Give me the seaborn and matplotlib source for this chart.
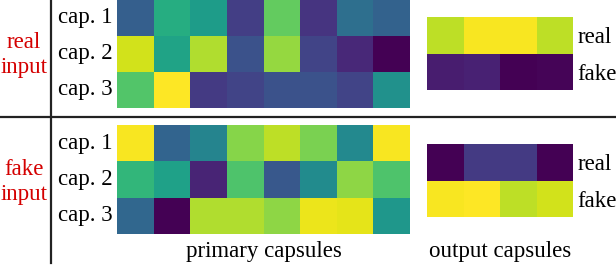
import numpy as np
import pandas as pd
import seaborn as sns
import matplotlib.pyplot as plt
from matplotlib.lines import Line2D

# capsule activations (viridis, 0..1)
cap_labels = ["cap. 1", "cap. 2", "cap. 3"]
out_labels = ["real", "fake"]

real_primary = [
    [0.30, 0.62, 0.55, 0.18, 0.76, 0.15, 0.36, 0.31],
    [0.93, 0.58, 0.88, 0.25, 0.84, 0.20, 0.11, 0.00],
    [0.73, 1.00, 0.17, 0.20, 0.25, 0.25, 0.20, 0.50],
]
fake_primary = [
    [0.99, 0.32, 0.45, 0.82, 0.90, 0.80, 0.47, 0.99],
    [0.66, 0.57, 0.10, 0.72, 0.27, 0.48, 0.83, 0.72],
    [0.33, 0.00, 0.88, 0.88, 0.83, 0.97, 0.96, 0.53],
]
real_output = [
    [0.90, 0.99, 0.99, 0.90],
    [0.08, 0.09, 0.00, 0.01],
]
fake_output = [
    [0.00, 0.17, 0.17, 0.00],
    [0.99, 1.00, 0.90, 0.93],
]

plt.rcParams['font.family'] = ['Liberation Serif', 'DejaVu Serif']

W, H = 616, 266
fig = plt.figure(figsize=(W / 100, H / 100), dpi=100)


def box(x0, y0, x1, y1):
    # pixel box (top-left origin) -> figure fraction
    return [x0 / W, (H - y1) / H, (x1 - x0) / W, (y1 - y0) / H]


def draw(data, rect, labels, right=False):
    ax = fig.add_axes(box(*rect))
    sns.heatmap(pd.DataFrame(data, index=labels), cmap="viridis", vmin=0, vmax=1,
                cbar=False, ax=ax, xticklabels=False, yticklabels=labels)
    if right:
        ax.yaxis.tick_right()
    ax.tick_params(axis="y", length=0, labelsize=16.5, pad=3, labelrotation=0)
    ax.set_xlabel("")
    ax.set_ylabel("")
    return ax


draw(real_primary, (117, 0, 410, 108), cap_labels)
draw(fake_primary, (117, 125, 410, 234), cap_labels)
draw(real_output, (427, 17, 573, 90), out_labels, right=True)
draw(fake_output, (427, 144, 573, 217), out_labels, right=True)

# row group labels
fig.text(24 / W, 1 - 55 / H, "real\ninput", color="#d40000", fontsize=16.5,
         ha="center", va="center", linespacing=1.25)
fig.text(24 / W, 1 - 182 / H, "fake\ninput", color="#d40000", fontsize=16.5,
         ha="center", va="center", linespacing=1.25)

fig.text(264 / W, 1 - 252 / H, "primary capsules", fontsize=16.5, ha="center", va="center")
fig.text(500 / W, 1 - 252 / H, "output capsules", fontsize=16.5, ha="center", va="center")

# separator lines
fig.add_artist(Line2D([51 / W, 51 / W], [1, 1 - 263 / H], color="#222222", lw=1.6))
fig.add_artist(Line2D([0, 1], [1 - 117 / H, 1 - 117 / H], color="#222222", lw=1.6))

fig.savefig("out.png", dpi=100)
